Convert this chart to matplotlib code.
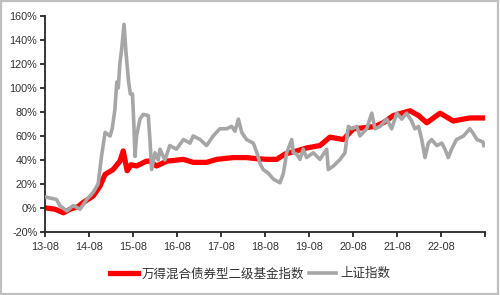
import matplotlib
matplotlib.use("Agg")
import matplotlib.pyplot as plt
from matplotlib.patches import Rectangle
from matplotlib.ticker import FuncFormatter
import pandas as pd

plt.rcParams['font.family'] = ['Liberation Sans', 'Noto Sans CJK SC', 'DejaVu Sans']

bond_dates = ["2013-08-10", "2013-10-22", "2014-01-01", "2014-02-25", "2014-05-01", "2014-06-13",
              "2014-09-05", "2014-10-30", "2014-12-13", "2015-02-17", "2015-04-15", "2015-05-12",
              "2015-06-14", "2015-07-16", "2015-08-31", "2015-11-21", "2015-12-20", "2016-02-13",
              "2016-05-08", "2016-09-23", "2016-12-13", "2017-04-03", "2017-06-26", "2017-11-10",
              "2018-03-01", "2018-05-26", "2018-08-28", "2018-11-06", "2019-01-15", "2019-04-20",
              "2019-07-12", "2019-10-31", "2020-01-22", "2020-05-12", "2020-08-03", "2020-11-22",
              "2021-01-30", "2021-04-09", "2021-07-01", "2021-11-17", "2022-01-26", "2022-04-05",
              "2022-07-24", "2022-11-10", "2023-03-28", "2023-07-15"]
bond_values = [0, -1, -4, -1, 1, 4.5,
               10, 18, 28, 32, 39, 47.5,
               31, 36, 35, 39, 39, 35,
               39, 40.5, 38, 38, 40.5, 42,
               42, 41, 40.5, 40.5, 45, 47.5,
               50, 52, 59, 57, 66, 67,
               68, 71, 77, 81, 77, 71,
               79, 72.5, 75, 75]

sh_dates = ["2013-08-10", "2013-09-27", "2013-11-05", "2013-12-02", "2014-01-29", "2014-03-22",
            "2014-05-19", "2014-07-13", "2014-09-05", "2014-10-16", "2014-11-13", "2014-12-13",
            "2015-01-23", "2015-02-10", "2015-03-04", "2015-03-20", "2015-04-01", "2015-04-15",
            "2015-04-29", "2015-05-19", "2015-06-04",
            "2015-06-24", "2015-07-10", "2015-07-28", "2015-08-08", "2015-08-18", "2015-08-31", "2015-09-28",
            "2015-10-26", "2015-12-06", "2015-12-20", "2016-01-03", "2016-01-31", "2016-02-27",
            "2016-03-12", "2016-04-22", "2016-06-02", "2016-07-27", "2016-09-23", "2016-11-17",
            "2016-12-13", "2017-02-09", "2017-04-03", "2017-05-28", "2017-07-22", "2017-09-16",
            "2017-10-28", "2017-11-25", "2017-12-23", "2018-01-20", "2018-03-01", "2018-04-26",
            "2018-05-26", "2018-06-21", "2018-07-17", "2018-08-28", "2018-10-10", "2018-12-03",
            "2019-01-01", "2019-01-28", "2019-03-11", "2019-03-24", "2019-04-20", "2019-05-18",
            "2019-06-14", "2019-07-12", "2019-09-05", "2019-10-31", "2019-12-26", "2020-01-08",
            "2020-02-20", "2020-04-16", "2020-05-26", "2020-06-23", "2020-07-20", "2020-08-31",
            "2020-09-27", "2020-11-22", "2021-01-03", "2021-01-30", "2021-03-13", "2021-05-08",
            "2021-06-17", "2021-07-30", "2021-09-09", "2021-10-19", "2021-11-30", "2021-12-27",
            "2022-01-26", "2022-02-22", "2022-03-21", "2022-04-18", "2022-05-15", "2022-06-27",
            "2022-08-07", "2022-09-03", "2022-09-30", "2022-10-28", "2022-12-07", "2023-02-04",
            "2023-03-28", "2023-04-26", "2023-05-26", "2023-07-15", "2023-07-22"]
sh_values = [9, 8, 7, 2, -2.5, 2,
             -1, 7, 13, 20, 43, 63,
             60, 66, 82, 105, 100, 121,
             132, 153, 130,
             107, 95, 95, 71, 43, 60, 74,
             78, 77, 57, 32, 46, 40,
             49, 40, 52, 49, 57, 54,
             60, 57, 52, 60, 66, 66,
             68, 64, 74, 63, 57, 54,
             46, 37, 32, 29, 24, 21,
             29, 46, 57, 46, 45, 40.5,
             49, 42, 46, 40.5, 49, 32,
             35, 40.5, 46, 68, 66, 68,
             60, 66, 79, 66, 68, 74,
             66, 79, 74, 79, 72.5, 66,
             68, 57, 42, 54, 57, 52,
             54, 49, 42, 49, 57, 60,
             66, 62, 57, 55, 52]

tick_years = list(range(2013, 2024))
y_ticks = list(range(-20, 161, 20))
series_names = ["万得混合债券型二级基金指数", "上证指数"]

fig = plt.figure(figsize=(5.0, 2.95), dpi=100)
ax = fig.add_axes([0.09, 0.2136, 0.88, 0.7324])

ax.plot(pd.to_datetime(bond_dates), bond_values, color='#FF0000', lw=3.8,
        solid_joinstyle='round', label=series_names[0], zorder=2)
ax.plot(pd.to_datetime(sh_dates), sh_values, color='#A6A6A6', lw=2.6,
        solid_joinstyle='round', label=series_names[1], zorder=3)

ax.set_ylim(-20, 160)
ax.set_yticks(y_ticks)
ax.yaxis.set_major_formatter(FuncFormatter(lambda v, p: f"{int(v)}%"))
ax.set_xlim(pd.Timestamp("2013-08-01"), pd.Timestamp("2023-08-01"))
ticks = [pd.Timestamp(f"{y}-08-01") for y in tick_years]
ax.set_xticks(ticks)
ax.set_xticklabels([f"{y % 100:02d}-08" for y in tick_years[:-1]] + [""])

for s in ['top', 'right']:
    ax.spines[s].set_visible(False)
for s in ['left', 'bottom']:
    ax.spines[s].set_color('#262626')
    ax.spines[s].set_linewidth(1.3)
ax.tick_params(axis='both', direction='out', length=3.5, width=1.3, color='#262626',
               labelsize=7.8, labelcolor='#333333', pad=2)
ax.tick_params(axis='x', pad=4)

leg = fig.legend(loc='center', bbox_to_anchor=(0.5, 0.071), ncol=2, frameon=False,
                 fontsize=9, handlelength=2.2, handletextpad=0.3, columnspacing=0.4)
for t in leg.get_texts():
    t.set_color('#333333')

fig.patches.append(Rectangle((0.002, 0.003), 0.994, 0.993, transform=fig.transFigure,
                             fill=False, edgecolor='#BFBFBF', lw=1.6))

fig.savefig("out.png", dpi=100)
